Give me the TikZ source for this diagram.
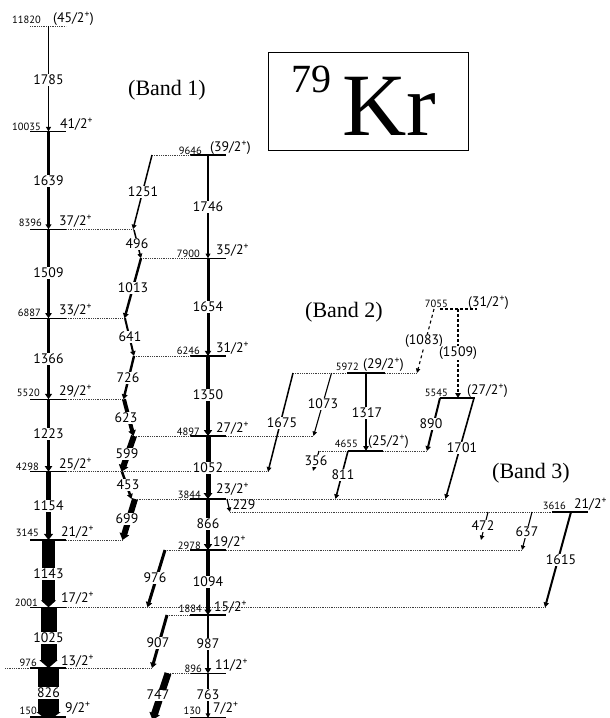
\documentclass[tikz,border=0pt]{standalone}
\usepackage{fontspec}
\setmainfont{Liberation Serif}
\newfontfamily\lab{PT Sans}
\usetikzlibrary{arrows.meta}
\newcommand\spinp{\textsuperscript{+}}
\tikzset{
  lvl/.style={line width=1.1pt, black},
  dlvl/.style={line width=0.8pt, densely dotted, black!75},
  tlvl/.style={line width=1.3pt, densely dashed, black},
  gam/.style={line width=#1, -{Triangle[length=4pt 0.4, width=3pt 1.1]}},
  gam/.default=1.5pt,
  glab/.style={font=\lab\fontsize{13.8}{14}\selectfont, fill=white, inner sep=0.6pt},
  elab/.style={font=\lab\fontsize{10.5}{11}\selectfont, inner sep=0pt, anchor=east},
  slab/.style={font=\lab\fontsize{13.8}{14}\selectfont, inner sep=0pt, anchor=west},
  band/.style={font=\fontsize{22}{24}\selectfont, inner sep=0pt},
}
\begin{document}
\begin{tikzpicture}[x=1pt,y=-1pt]
\useasboundingbox (0,0) rectangle (610,718);
% ---------- coordinates ----------
\coordinate (a11820) at (48.5,26);
\coordinate (a10035) at (48.5,131.5);
\coordinate (a8396) at (48.5,229.3);
\coordinate (a6887) at (48.5,318.3);
\coordinate (a5520) at (48.5,399.3);
\coordinate (a4298) at (48.5,471.7);
\coordinate (a3145) at (48.5,540);
\coordinate (a2001) at (48.5,607.3);
\coordinate (a976) at (48.5,668);
\coordinate (a150) at (48.5,717);
\coordinate (b9646) at (208,155);
\coordinate (b7900) at (208,258.3);
\coordinate (b6246) at (208,356);
\coordinate (b4897) at (208,436);
\coordinate (b3844) at (208,499);
\coordinate (b2978) at (208,550);
\coordinate (b1884) at (208,615);
\coordinate (b896) at (208,673.3);
\coordinate (b130) at (208,718);
% ---------- levels: left ----------
\draw[dlvl] (30,26) -- (66,26);
\foreach \y in {131.5,229.3,318.3,399.3,471.7,540,607.3,668,717}
  \draw[lvl] (30,\y) -- (66,\y);
\draw[dlvl] (66,229.3) -- (134,229.3);
\draw[dlvl] (66,318.3) -- (125,318.3);
\draw[dlvl] (66,399.3) -- (124,399.3);
\draw[dlvl] (66,471.7) -- (268,471.7);
\draw[dlvl] (66,540) -- (123,540);
\draw[dlvl] (66,607.3) -- (545,607.3);
\draw[dlvl] (5,668) -- (30,668);
\draw[dlvl] (66,668) -- (152,668);
% ---------- levels: middle ----------
\foreach \y in {155,258.3,356,436,499,550,615,673.3,717.5}
  \draw[lvl] (190,\y) -- (226,\y);
\draw[dlvl] (152,155) -- (190,155);
\draw[dlvl] (141,258.3) -- (190,258.3);
\draw[dlvl] (134,356) -- (190,356);
\draw[dlvl] (134,436) -- (190,436);
\draw[dlvl] (226,436) -- (314,436);
\draw[dlvl] (135,499) -- (190,499);
\draw[dlvl] (227,499) -- (446,499);
\draw[dlvl] (165,550) -- (190,550);
\draw[dlvl] (226,550) -- (522,550);
\draw[dlvl] (167,615) -- (190,615);
\draw[dlvl] (168,673.3) -- (190,673.3);
% ---------- levels: band 2 / band 3 ----------
\draw[tlvl] (440,309) -- (477,309);
\draw[dlvl] (293,373) -- (347,373);
\draw[lvl, line width=1.8pt] (347,373) -- (385,373);
\draw[dlvl] (385,373) -- (417,373);
\draw[lvl, line width=1.5pt] (440,398) -- (475,398);
\draw[dlvl] (318,451) -- (348,451);
\draw[lvl, line width=1.8pt] (348,451) -- (383,451);
\draw[dlvl] (383,451) -- (427,451);
\draw[dlvl] (230,512) -- (552,512);
\draw[lvl] (552,512) -- (588,512);
% ---------- transitions: left column ----------
\draw[gam=1.8pt] (a11820) -- (a10035);
\draw[gam=2.6pt] (a10035) -- (a8396);
\draw[gam=3pt] (a8396) -- (a6887);
\draw[gam=3.3pt] (a6887) -- (a5520);
\draw[gam=3.8pt] (a5520) -- (a4298);
\draw[gam=5.5pt] (a4298) -- (a3145);
\draw[line width=13pt, -{Triangle[length=7pt, width=15pt]}] (a3145) -- (a2001);
\draw[line width=16pt, -{Triangle[length=8pt, width=18pt]}] (a2001) -- (a976);
\draw[line width=21pt, -{Triangle[length=9pt, width=24pt]}] (a976) -- ([yshift=-4pt]a150);
% ---------- transitions: middle column ----------
\draw[gam=1.5pt] (b9646) -- (b7900);
\draw[gam=3pt] (b7900) -- (b6246);
\draw[gam=4.5pt] (b6246) -- (b4897);
\draw[gam=5pt] (b4897) -- (b3844);
\draw[gam=4.5pt] (b3844) -- (b2978);
\draw[gam=3.5pt] (b2978) -- (b1884);
\draw[gam=2.8pt] (b1884) -- (b896);
\draw[gam=1.4pt] (b896) -- (b130);
% ---------- transitions: side cascade ----------
\coordinate (s1251a) at (152,155);   \coordinate (s1251b) at (133,229.3);
\coordinate (s496a) at (134,230);    \coordinate (s496b) at (141,258.3);
\coordinate (s1013a) at (141,258.3); \coordinate (s1013b) at (124.5,318.3);
\coordinate (s641a) at (125,318.3);  \coordinate (s641b) at (134,356);
\coordinate (s726a) at (134,356);    \coordinate (s726b) at (123.5,399.3);
\coordinate (s623a) at (124,399.3);  \coordinate (s623b) at (133.5,436);
\coordinate (s599a) at (134,436);    \coordinate (s599b) at (121.5,471.7);
\coordinate (s453a) at (122,471.7);  \coordinate (s453b) at (131.5,499);
\coordinate (s699a) at (135,499);    \coordinate (s699b) at (122.5,540);
\coordinate (s976a) at (165,550);    \coordinate (s976b) at (147.5,607.3);
\coordinate (s907a) at (167,615);    \coordinate (s907b) at (152,668);
\coordinate (s747a) at (168,673.3);  \coordinate (s747b) at (152.5,720);
\draw[gam=1.5pt] (s1251a) -- (s1251b);
\draw[gam=1.5pt] (s496a) -- (s496b);
\draw[gam=2.4pt] (s1013a) -- (s1013b);
\draw[gam=2pt] (s641a) -- (s641b);
\draw[gam=2.4pt] (s726a) -- (s726b);
\draw[gam=4pt] (s623a) -- (s623b);
\draw[gam=6pt] (s599a) -- (s599b);
\draw[gam=2.5pt] (s453a) -- (s453b);
\draw[gam=6pt] (s699a) -- (s699b);
\draw[gam=3pt] (s976a) -- (s976b);
\draw[gam=3pt] (s907a) -- (s907b);
\draw[gam=7pt] (s747a) -- (s747b);
% ---------- transitions: band 2 / band 3 ----------
\coordinate (t1675a) at (293,373);  \coordinate (t1675b) at (268,471.7);
\coordinate (t1073a) at (331.5,373); \coordinate (t1073b) at (313.5,436);
\coordinate (t1317a) at (366,373);  \coordinate (t1317b) at (366,451);
\coordinate (t1083a) at (434,309);  \coordinate (t1083b) at (417,373);
\coordinate (t1509a) at (458,309);  \coordinate (t1509b) at (458,398);
\coordinate (t890a) at (440,398);   \coordinate (t890b) at (427,451);
\coordinate (t1701a) at (474,398);  \coordinate (t1701b) at (445.5,499);
\coordinate (t356a) at (319,451);   \coordinate (t356b) at (313,471);
\coordinate (t811a) at (348,451);   \coordinate (t811b) at (335.5,499);
\coordinate (t229a) at (227,499);   \coordinate (t229b) at (230,512);
\coordinate (t472a) at (488,512);   \coordinate (t472b) at (481,540);
\coordinate (t637a) at (532,512);   \coordinate (t637b) at (522,550);
\coordinate (t1615a) at (571,512);  \coordinate (t1615b) at (545,607.3);
\draw[gam=1.5pt] (t1675a) -- (t1675b);
\draw[gam=1.1pt] (t1073a) -- (t1073b);
\draw[gam=2pt] (t1317a) -- (t1317b);
\draw[gam=1.1pt, dashed] (t1083a) -- (t1083b);
\draw[gam=2pt, densely dashed] (t1509a) -- (t1509b);
\draw[gam=2pt] (t890a) -- (t890b);
\draw[gam=1.6pt] (t1701a) -- (t1701b);
\draw[gam=1.1pt] (t356a) -- (t356b);
\draw[gam=1.6pt] (t811a) -- (t811b);
\draw[gam=1.2pt] (t229a) -- (t229b);
\draw[gam=1.1pt] (t472a) -- (t472b);
\draw[gam=1.1pt] (t637a) -- (t637b);
\draw[gam=2pt] (t1615a) -- (t1615b);
% ---------- gamma labels ----------
\node[glab] (g1785) at (48.5,80) {1785};
\node[glab] (g1639) at (48.5,181) {1639};
\node[glab] (g1509) at (48.5,273) {1509};
\node[glab] (g1366) at (48.5,359) {1366};
\node[glab] (g1223) at (48.5,434) {1223};
\node[glab] (g1154) at (48.5,506) {1154};
\node[glab] (g1143) at (48.5,574) {1143};
\node[glab] (g1025) at (48.5,638) {1025};
\node[glab] (g826) at (48.5,693) {826};
\node[glab] (g1746) at (208,207) {1746};
\node[glab] (g1654) at (208,307) {1654};
\node[glab] (g1350) at (208,395) {1350};
\node[glab] (g1052) at (208,468) {1052};
\node[glab] (g866) at (208,524) {866};
\node[glab] (g1094) at (208,582) {1094};
\node[glab] (g987) at (208,644) {987};
\node[glab] (g763) at (208,695) {763};
\node[glab] (g1251) at (143,192) {1251};
\node[glab] (g496) at (137,244) {496};
\node[glab] (g1013) at (133,288) {1013};
\node[glab] (g641) at (130,337) {641};
\node[glab] (g726) at (128,378) {726};
\node[glab] (g623) at (126,418) {623};
\node[glab] (g599) at (127,454) {599};
\node[glab] (g453) at (128,485) {453};
\node[glab] (g699) at (127,519) {699};
\node[glab] (g976) at (155,578) {976};
\node[glab] (g907) at (158,643) {907};
\node[glab] (g747) at (158,695) {747};
\node[glab] (g1675) at (282,423) {1675};
\node[glab] (g1073) at (323,404) {1073};
\node[glab] (g1317) at (367,413) {1317};
\node[glab] (g1083) at (424,341) {(1083)};
\node[glab] (g1509b) at (458,353) {(1509)};
\node[glab] (g890) at (431,424) {890};
\node[glab] (g1701) at (462,448) {1701};
\node[glab] (g356) at (316,461) {356};
\node[glab] (g811) at (343,475) {811};
\node[glab, fill=none] (g229) at (244,505) {229};
\node[glab] (g472) at (483,526) {472};
\node[glab] (g637) at (527,532) {637};
\node[glab] (g1615) at (561,560) {1615};
% ---------- energy labels ----------
\node[elab] (e11820) at (41,20) {11820};
\node[elab] (e10035) at (41,127) {10035};
\node[elab] (e8396) at (42,223) {8396};
\node[elab] (e6887) at (41,313) {6887};
\node[elab] (e5520) at (40,393) {5520};
\node[elab] (e4298) at (39,467) {4298};
\node[elab] (e3145) at (39,533) {3145};
\node[elab] (e2001) at (38,603) {2001};
\node[elab] (e976) at (37,663) {976};
\node[elab] (e150) at (37,711) {150};
\node[elab] (e9646) at (202,151) {9646};
\node[elab] (e7900) at (200,254) {7900};
\node[elab] (e6246) at (200,351) {6246};
\node[elab] (e4897) at (200,432) {4897};
\node[elab] (e3844) at (201,495) {3844};
\node[elab] (e2978) at (201,546) {2978};
\node[elab] (e1884) at (202,609) {1884};
\node[elab] (e896) at (202,669) {896};
\node[elab] (e130) at (201,711) {130};
\node[elab] (e7055) at (448,304) {7055};
\node[elab] (e5972) at (359,367) {5972};
\node[elab] (e5545) at (448,393) {5545};
\node[elab] (e4655) at (358,444) {4655};
\node[elab] (e3616) at (566,506) {3616};
% ---------- spin labels ----------
\node[slab] (j11820) at (53,19) {(45/2\spinp)};
\node[slab] (j10035) at (60,124) {41/2\spinp};
\node[slab] (j8396) at (59,221) {37/2\spinp};
\node[slab] (j6887) at (59,310) {33/2\spinp};
\node[slab] (j5520) at (59,391) {29/2\spinp};
\node[slab] (j4298) at (59,464) {25/2\spinp};
\node[slab] (j3145) at (61,532) {21/2\spinp};
\node[slab] (j2001) at (61,598) {17/2\spinp};
\node[slab] (j976) at (61,661) {13/2\spinp};
\node[slab] (j150) at (65,708) {9/2\spinp};
\node[slab] (j9646) at (210,148) {(39/2\spinp)};
\node[slab] (j7900) at (216,250) {35/2\spinp};
\node[slab] (j6246) at (216,348) {31/2\spinp};
\node[slab] (j4897) at (216,428) {27/2\spinp};
\node[slab] (j3844) at (216,489) {23/2\spinp};
\node[slab] (j2978) at (213,542) {19/2\spinp};
\node[slab] (j1884) at (214,607) {15/2\spinp};
\node[slab] (j896) at (215,665) {11/2\spinp};
\node[slab] (j130) at (213,708) {7/2\spinp};
\node[slab] (j7055) at (468,303) {(31/2\spinp)};
\node[slab] (j5972) at (363,365) {(29/2\spinp)};
\node[slab] (j5545) at (467,391) {(27/2\spinp)};
\node[slab] (j4655) at (368,442) {(25/2\spinp)};
\node[slab] (j3616) at (574,504) {21/2\spinp};
% ---------- band labels and title ----------
\node[band] (band1) at (167,90) {(Band 1)};
\node[band] (band2) at (344,312) {(Band 2)};
\node[band] (band3) at (531,473) {(Band 3)};
\draw[line width=1pt] (268,52) rectangle (468,150.5);
\node[anchor=base west, inner sep=0pt, font=\fontsize{40}{40}\selectfont] (mass) at (291,92) {79};
\node[anchor=base west, inner sep=0pt, font=\fontsize{89}{89}\selectfont] (elem) at (342,135) {Kr};
\end{tikzpicture}
\end{document}
